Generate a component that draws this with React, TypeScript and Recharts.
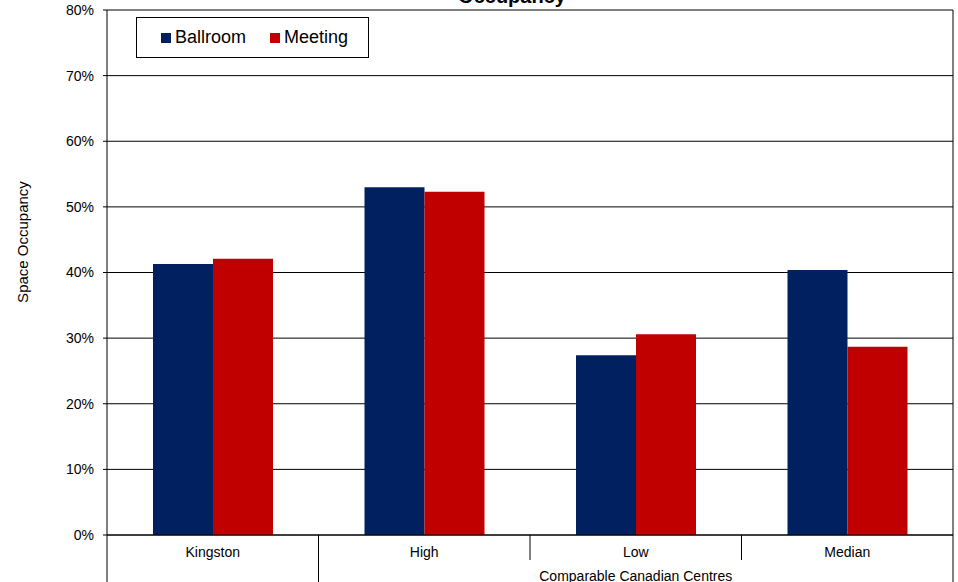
import React from 'react';
import { BarChart, Bar, XAxis, YAxis, CartesianGrid } from 'recharts';

// Occupancy by venue type: Kingston vs comparable Canadian centres
const categories = ['Kingston', 'High', 'Low', 'Median'];
const ballroom = [0.413, 0.53, 0.274, 0.404];
const meeting = [0.421, 0.523, 0.306, 0.287];
const yTicks = [0, 0.1, 0.2, 0.3, 0.4, 0.5, 0.6, 0.7, 0.8];
const groupLabel = 'Comparable Canadian Centres';
const groupMembers = ['High', 'Low', 'Median'];
const yAxisTitle = 'Space Occupancy';
const chartTitle = 'Occupancy';

const series = [
  { key: 'ballroom', name: 'Ballroom', color: '#002060' },
  { key: 'meeting', name: 'Meeting', color: '#C00000' },
];

const data = categories.map((name, i) => ({
  name,
  ballroom: ballroom[i],
  meeting: meeting[i],
}));

const W = 958;
const H = 582;
const M = { top: 10, right: 5, left: 47, bottom: 0 };
const Y_AXIS_W = 60;
const X_AXIS_H = 47;
const PLOT_LEFT = M.left + Y_AXIS_W;
const PLOT_RIGHT = W - M.right;
const PLOT_TOP = M.top;
const AXIS_Y = H - M.bottom - X_AXIS_H;
const BAND = (PLOT_RIGHT - PLOT_LEFT) / categories.length;
const FONT = 'Arial, "Liberation Sans", sans-serif';

const CategoryTick = (props: any) => {
  const { x, payload } = props;
  const index = categories.indexOf(payload.value);
  const left = x - BAND / 2;
  const firstInGroup = groupMembers.indexOf(payload.value) === 0;
  const inGroupNotFirst = groupMembers.indexOf(payload.value) > 0;
  const sepBottom = inGroupNotFirst ? AXIS_Y + 25 : H;
  const isLast = index === categories.length - 1;
  return (
    <g>
      <line x1={left} x2={left} y1={AXIS_Y} y2={sepBottom} stroke="#000" strokeWidth={1} />
      {isLast && (
        <line x1={x + BAND / 2} x2={x + BAND / 2} y1={PLOT_TOP} y2={H} stroke="#000" strokeWidth={1} />
      )}
      <text x={x} y={AXIS_Y + 22} textAnchor="middle" fontSize={14} fill="#000" fontFamily={FONT}>
        {payload.value}
      </text>
      {firstInGroup && (
        <text
          x={x + (BAND * (groupMembers.length - 1)) / 2}
          y={AXIS_Y + 46}
          textAnchor="middle"
          fontSize={14}
          fill="#000"
          fontFamily={FONT}
        >
          {groupLabel}
        </text>
      )}
    </g>
  );
};

const LegendBox = () => (
  <div
    style={{
      position: 'absolute',
      left: 136,
      top: 17,
      boxSizing: 'border-box',
      width: 233,
      height: 41,
      border: '1px solid #000',
      background: '#fff',
      display: 'flex',
      alignItems: 'center',
      paddingLeft: 24,
      fontFamily: FONT,
      fontSize: 18,
      color: '#000',
      zIndex: 2,
    }}
  >
    {series.map((s, i) => (
      <span key={s.key} style={{ display: 'flex', alignItems: 'center', marginRight: i === 0 ? 24 : 0 }}>
        <span style={{ display: 'inline-block', width: 10, height: 10, background: s.color, marginRight: 4 }} />
        {s.name}
      </span>
    ))}
  </div>
);

export default function App() {
  return (
    <div style={{ position: 'absolute', left: 0, top: 0, width: W, height: H, background: '#fff', overflow: 'hidden' }}>
      <BarChart
        width={W}
        height={H}
        data={data}
        margin={M}
        barCategoryGap="21.75%"
        barGap={0}
      >
        <CartesianGrid vertical={false} stroke="#000" strokeWidth={1} />
        <XAxis
          dataKey="name"
          height={X_AXIS_H}
          interval={0}
          tickLine={false}
          axisLine={{ stroke: '#000' }}
          tick={<CategoryTick />}
        />
        <YAxis
          width={Y_AXIS_W}
          domain={[0, 0.8]}
          ticks={yTicks}
          tickFormatter={(v: number) => `${Math.round(v * 100)}%`}
          tick={{ fontSize: 14, fill: '#000', fontFamily: FONT }}
          tickLine={{ stroke: '#000' }}
          tickSize={4}
          tickMargin={9}
          axisLine={{ stroke: '#000' }}
        />
        {series.map((s) => (
          <Bar key={s.key} dataKey={s.key} name={s.name} fill={s.color} isAnimationActive={false} />
        ))}
      </BarChart>
      <LegendBox />
      {/* rotated value-axis title */}
      <div
        style={{
          position: 'absolute',
          left: 22,
          top: 242,
          transform: 'translate(-50%, -50%) rotate(-90deg)',
          fontFamily: FONT,
          fontSize: 15,
          color: '#000',
          whiteSpace: 'nowrap',
          lineHeight: 1,
        }}
      >
        {yAxisTitle}
      </div>
      <div
        style={{
          position: 'absolute',
          left: 512,
          top: -15,
          transform: 'translateX(-50%)',
          fontFamily: FONT,
          fontWeight: 'bold',
          fontSize: 20,
          color: '#000',
          whiteSpace: 'nowrap',
        }}
      >
        {chartTitle}
      </div>
    </div>
  );
}
